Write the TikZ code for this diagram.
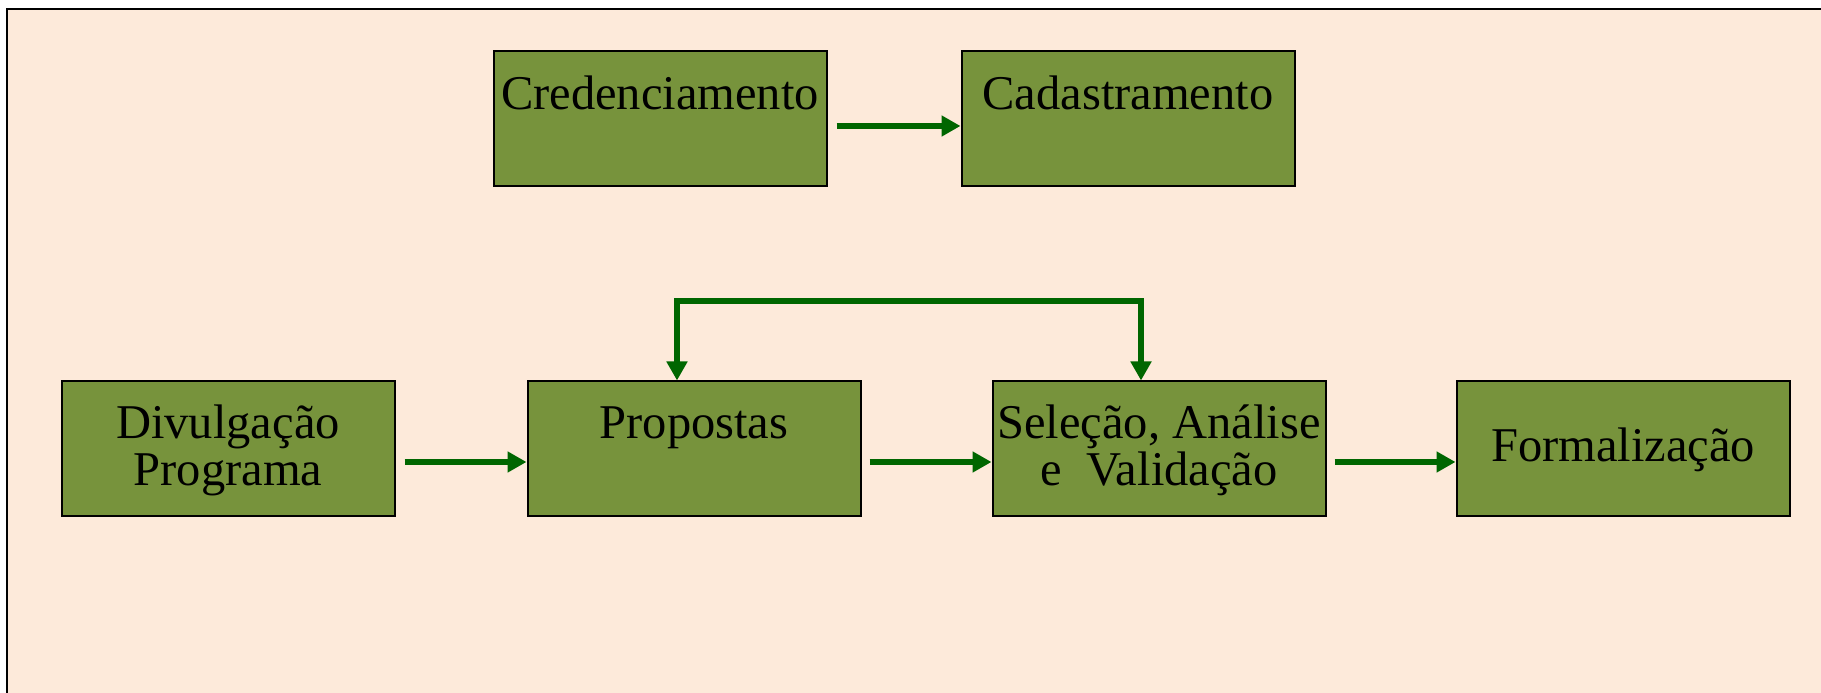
\documentclass[tikz,border=0pt]{standalone}
\usepackage{fontspec}
\setmainfont{Liberation Serif}
\usetikzlibrary{arrows.meta}
\definecolor{peach}{RGB}{253,234,218}
\definecolor{olive}{RGB}{119,147,60}
\definecolor{flowgreen}{RGB}{0,102,0}
\newcommand{\bxs}{\rule[-9pt]{0pt}{45pt}}

\begin{document}
\begin{tikzpicture}[x=1pt, y=1pt,
    box/.style={draw=black, line width=2pt, fill=olive, minimum width=333pt,
        minimum height=135pt, inner sep=0pt, align=center,
        font=\fontsize{48.5}{45}\selectfont},
    flow/.style={draw=flowgreen, line width=6pt, -{Triangle[length=19pt,width=20pt]}},
    flowback/.style={flow, {Triangle[length=19pt,width=20pt]}-{Triangle[length=19pt,width=20pt]}}]
    \useasboundingbox (0,0) rectangle (1821,693);
    \fill[peach] (7,0) rectangle (1821,684);
    \draw[line width=2.5pt] (7,0) -- (7,684) -- (1821,684);

    \node[box] (cred) at (660,574) {\bxs Credenciamento\\\bxs};
    \node[box] (cad) at (1128,574) {\bxs Cadastramento\\\bxs};
    \node[box] (div) at (228,244) {\bxs Divulgação\\\bxs Programa};
    \node[box] (prop) at (694,244) {\bxs Propostas\\\bxs};
    \node[box] (sel) at (1159,244) {\bxs Seleção, Análise\\\bxs e\ \ Validação};
    \node[box] (form) at (1623,244) {\bxs Formalização};

    \draw[flow, shorten <=9pt] ([yshift=-7pt]cred.east) -- ([yshift=-7pt]cad.west);
    \draw[flow, shorten <=9pt] ([yshift=-13pt]div.east) -- ([yshift=-13pt]prop.west);
    \draw[flow, shorten <=8pt] ([yshift=-13pt]prop.east) -- ([yshift=-13pt]sel.west);
    \draw[flow, shorten <=8pt] ([yshift=-13pt]sel.east) -- ([yshift=-13pt]form.west);
    \draw[flowback] ([xshift=-17pt]prop.north) -- ++(0,79) -| ([xshift=-18pt]sel.north);
\end{tikzpicture}
\end{document}
